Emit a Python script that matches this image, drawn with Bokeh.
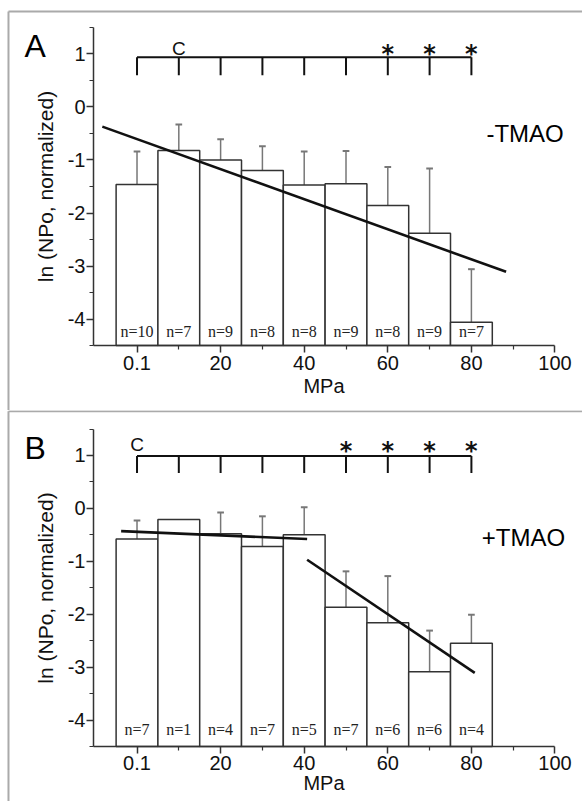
from bokeh.plotting import figure
from bokeh.models import Range1d, FixedTicker, Label
from bokeh.layouts import column
from bokeh.embed import file_html
from bokeh.resources import INLINE
from bokeh.core.properties import value

# ---------------- data ----------------
pressure = [0, 10, 20, 30, 40, 50, 60, 70, 80]
x_ticks = [0, 20, 40, 60, 80, 100]
x_minor = [10, 30, 50, 70, 90]
x_tick_labels = ["0.1", "20", "40", "60", "80", "100"]
y_ticks = [-4, -3, -2, -1, 0, 1]
y_minor = [-4.5, -3.5, -2.5, -1.5, -0.5, 0.5, 1.5]
y_tick_labels = ["-4", "-3", "-2", "-1", "0", "1"]

a_mean = [-1.46, -0.82, -1.00, -1.20, -1.47, -1.45, -1.86, -2.38, -4.06]
a_sd = [0.62, 0.49, 0.39, 0.46, 0.63, 0.62, 0.73, 1.22, 1.00]
a_n = [10, 7, 9, 8, 8, 9, 8, 9, 7]
a_fit_x = [-8.3, 88.3]
a_fit_y = [-0.37, -3.11]
a_control_x = [10]
a_signif_x = [60, 70, 80]

b_mean = [-0.58, -0.21, -0.48, -0.72, -0.50, -1.87, -2.16, -3.09, -2.55]
b_sd = [0.35, 0.0, 0.40, 0.57, 0.52, 0.68, 0.88, 0.78, 0.54]
b_n = [7, 1, 4, 7, 5, 7, 6, 6, 4]
b_fit1_x = [-3.8, 40.7]
b_fit1_y = [-0.43, -0.58]
b_fit2_x = [40.7, 80.8]
b_fit2_y = [-0.97, -3.11]
b_control_x = [0]
b_signif_x = [50, 60, 70, 80]

SANS = "Liberation Sans"
SERIF = "Liberation Serif"
DARK = "#333333"
X_AXIS_MIN, X_AXIS_MAX = -10.41, 100
Y_AXIS_MIN, Y_AXIS_MAX = -4.5, 1.5


def make_panel(height, yr, mean, sd, n, fits, control_x, signif_x,
               letter, tag, bracket_y, bracket_tick_y, c_y, star_y, n_y,
               tick_standoff, xlabel_standoff, frame_left, frame_top):
    p = figure(width=582, height=height, output_backend="svg",
               toolbar_location=None,
               x_range=Range1d(-32.66, 106.58), y_range=Range1d(*yr),
               min_border_left=0, min_border_right=0,
               min_border_top=0, min_border_bottom=0,
               background_fill_color="white", border_fill_color="white")
    p.title.visible = False
    p.outline_line_color = None
    p.grid.visible = False

    # axes (fixed in the frame so the panel letter can sit beside them)
    p.xaxis.fixed_location = Y_AXIS_MIN
    p.yaxis.fixed_location = X_AXIS_MIN
    p.xaxis.bounds = (X_AXIS_MIN, X_AXIS_MAX)
    p.yaxis.bounds = (Y_AXIS_MIN, Y_AXIS_MAX)
    p.xaxis.ticker = FixedTicker(ticks=x_ticks, minor_ticks=x_minor)
    p.xaxis.major_label_overrides = dict(zip(x_ticks, x_tick_labels))
    p.yaxis.ticker = FixedTicker(ticks=y_ticks, minor_ticks=y_minor)
    p.yaxis.major_label_overrides = dict(zip(y_ticks, y_tick_labels))
    for ax in (p.xaxis, p.yaxis):
        ax.axis_line_color = DARK
        ax.axis_line_width = 1.5
        ax.major_tick_line_color = DARK
        ax.minor_tick_line_color = DARK
        ax.major_tick_line_width = 1.5
        ax.minor_tick_line_width = 1.2
        ax.major_tick_in = 0
        ax.major_tick_out = 7
        ax.minor_tick_in = 0
        ax.minor_tick_out = 4
        ax.major_label_text_font = SANS
        ax.major_label_text_font_size = "20px"
        ax.major_label_text_color = "#111111"
        ax.axis_label_text_font = SANS
        ax.axis_label_text_font_style = "normal"
        ax.axis_label_text_color = "#111111"
    p.xaxis.axis_label = "MPa"
    p.xaxis.axis_label_text_font_size = "20px"
    p.xaxis.major_label_standoff = tick_standoff
    p.xaxis.axis_label_standoff = xlabel_standoff
    p.yaxis.axis_label = "ln (NPo, normalized)"
    p.yaxis.axis_label_text_font_size = "21px"
    p.yaxis.major_label_standoff = 1
    p.yaxis.axis_label_standoff = 8

    # panel frame lines (left edge and top edge)
    p.segment(x0=[frame_left], y0=[frame_top], x1=[frame_left], y1=[yr[0]],
              line_color="#aaaaaa", line_width=2)
    p.segment(x0=[frame_left], y0=[frame_top], x1=[106.58], y1=[frame_top],
              line_color="#aaaaaa", line_width=2)

    # error bars (upper only)
    ex = [x for x, s in zip(pressure, sd) if s > 0]
    ey0 = [m for m, s in zip(mean, sd) if s > 0]
    ey1 = [m + s for m, s in zip(mean, sd) if s > 0]
    p.segment(x0=ex, y0=ey0, x1=ex, y1=ey1, line_color="#777777", line_width=1.5)
    p.segment(x0=[x - 0.8 for x in ex], y0=ey1, x1=[x + 0.8 for x in ex], y1=ey1,
              line_color="#777777", line_width=2)

    # bars
    p.vbar(x=pressure, width=10, bottom=Y_AXIS_MIN, top=mean, fill_color="white",
           line_color=DARK, line_width=1.5)

    # fit lines
    for fx, fy in fits:
        p.line(fx, fy, line_color="#111111", line_width=2.6)

    # n labels
    p.text(x=pressure, y=[n_y] * len(pressure), text=["n=%d" % v for v in n],
           text_font=value(SERIF), text_font_size="16px", text_color="#222222",
           text_align="center", text_baseline="middle")

    # significance bracket
    p.segment(x0=[pressure[0]], y0=[bracket_y], x1=[pressure[-1]], y1=[bracket_y],
              line_color="#111111", line_width=2)
    p.segment(x0=pressure, y0=[bracket_y] * len(pressure), x1=pressure,
              y1=[bracket_tick_y] * len(pressure), line_color="#111111", line_width=2)
    p.text(x=control_x, y=[c_y] * len(control_x), text=["C"] * len(control_x),
           text_font=value(SANS), text_font_size="19px", text_color="#111111",
           text_align="center", text_baseline="middle")
    p.text(x=signif_x, y=[star_y] * len(signif_x), text=["*"] * len(signif_x),
           text_font=value("DejaVu Sans"), text_font_size="24px",
           text_font_style="bold", text_color="#111111",
           text_align="center", text_baseline="middle")

    # panel letter and condition tag
    p.add_layout(Label(x=-26.9, y=letter[1], text=letter[0], text_font=SANS,
                       text_font_size="32px", text_color="#000000",
                       text_align="left", text_baseline="middle"))
    p.add_layout(Label(x=tag[1], y=tag[2], text=tag[0], text_font=SANS,
                       text_font_size="24px", text_color="#000000",
                       text_align="left", text_baseline="middle"))
    return p


pA = make_panel(410, (-5.726, 2.009), a_mean, a_sd, a_n, [(a_fit_x, a_fit_y)],
                a_control_x, a_signif_x, ("A", 1.15), ("-TMAO", 83.6, -0.5),
                0.94, 0.6, 1.11, 1.0, -4.23, 3, 2, -30.75, 1.80)
pB = make_panel(391, (-5.54, 1.85), b_mean, b_sd, b_n,
                [(b_fit1_x, b_fit1_y), (b_fit2_x, b_fit2_y)],
                b_control_x, b_signif_x, ("B", 1.145), ("+TMAO", 82.5, -0.55),
                0.99, 0.67, 1.20, 1.08, -4.18, 3, -2, -30.75, 1.835)

layout = column(pA, pB)
open("out.html", "w").write(file_html(layout, INLINE))
